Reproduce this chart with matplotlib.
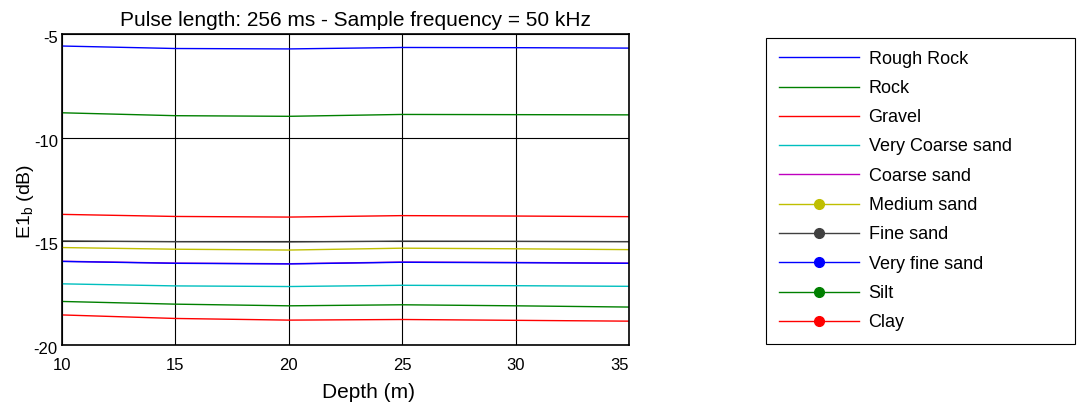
import matplotlib
matplotlib.use('Agg')
import matplotlib.pyplot as plt
import matplotlib.transforms as mtransforms
from matplotlib.lines import Line2D
import numpy as np

plt.rcParams['font.family'] = ['Liberation Sans', 'DejaVu Sans']
plt.rcParams['axes.unicode_minus'] = False

depth = [10, 15, 20, 25, 30, 35]

labels = ['Rough Rock', 'Rock', 'Gravel', 'Very Coarse sand', 'Coarse sand',
          'Medium sand', 'Fine sand', 'Very fine sand', 'Silt', 'Clay']

rough_rock = [-5.58, -5.70, -5.72, -5.65, -5.66, -5.68]
rock = [-8.80, -8.94, -8.97, -8.88, -8.89, -8.90]
gravel = [-13.70, -13.80, -13.83, -13.76, -13.78, -13.81]
very_coarse_sand = [-17.05, -17.15, -17.18, -17.12, -17.14, -17.17]
coarse_sand = [-15.96, -16.05, -16.08, -16.00, -16.02, -16.05]
medium_sand = [-15.30, -15.38, -15.42, -15.33, -15.36, -15.40]
fine_sand = [-14.98, -15.02, -15.03, -14.99, -15.00, -15.02]
very_fine_sand = [-15.97, -16.06, -16.09, -16.01, -16.03, -16.06]
silt = [-17.90, -18.03, -18.11, -18.06, -18.11, -18.17]
clay = [-18.55, -18.72, -18.80, -18.77, -18.81, -18.85]

series = [rough_rock, rock, gravel, very_coarse_sand, coarse_sand,
          medium_sand, fine_sand, very_fine_sand, silt, clay]
colors = ['#0000ff', '#008000', '#ff0000', '#00bfbf', '#bf00bf',
          '#bfbf00', '#404040', '#0000ff', '#008000', '#ff0000']
has_marker = [False]*5 + [True]*5

fig = plt.figure(figsize=(10.8, 4.04), dpi=100)
ax = fig.add_axes([62/1080, 1-345/404, (629-62)/1080, (345-34)/404])

for y, c in zip(series, colors):
    ax.plot(depth, y, color=c, lw=1.0)

ax.set_xlim(10, 35)
ax.set_ylim(-20, -5)
ax.set_xticks([10, 15, 20, 25, 30, 35])
ax.set_yticks([-20, -15, -10, -5])
ax.grid(True, color='black', lw=0.8)
ax.tick_params(direction='in', length=0, labelsize=12)
ax.tick_params(axis='x', pad=9)
ax.tick_params(axis='y', pad=3)
for s in ax.spines.values():
    s.set_linewidth(1.2)

# shift y tick labels slightly down, last x tick label kept inside axes
for lbl in ax.get_yticklabels():
    lbl.set_transform(lbl.get_transform() + mtransforms.ScaledTranslation(0, -3/100, fig.dpi_scale_trans))
ax.get_xticklabels()[-1].set_horizontalalignment('right')

ax.set_xlabel('Depth (m)', fontsize=15)
ax.xaxis.set_label_coords((368-62)/567, (345-383)/311)
ax.set_ylabel('E1$_\\mathregular{b}$ (dB)', fontsize=14)
ax.yaxis.set_label_coords((36-62)/567, (345-201)/311)
ax.set_title('Pulse length: 256 ms - Sample frequency = 50 kHz', fontsize=15,
             x=(355-62)/567, pad=6)

handles = []
for c, m in zip(colors, has_marker):
    handles.append(Line2D([], [], color=c, lw=1.0, marker='o' if m else None,
                          markersize=7, markerfacecolor=c, markeredgecolor=c))
leg = fig.legend(handles, labels, loc='upper left',
                 bbox_to_anchor=(766/1080, 1-38/404-0.01, (1075-766)/1080, 0.01),
                 mode='expand', borderaxespad=0, fontsize=13, handlelength=4.43,
                 handletextpad=0.55, labelspacing=0.68, borderpad=0.7,
                 fancybox=False, edgecolor='black', framealpha=1, numpoints=1)
leg.get_frame().set_linewidth(0.8)

fig.savefig('out.png', dpi=100)
